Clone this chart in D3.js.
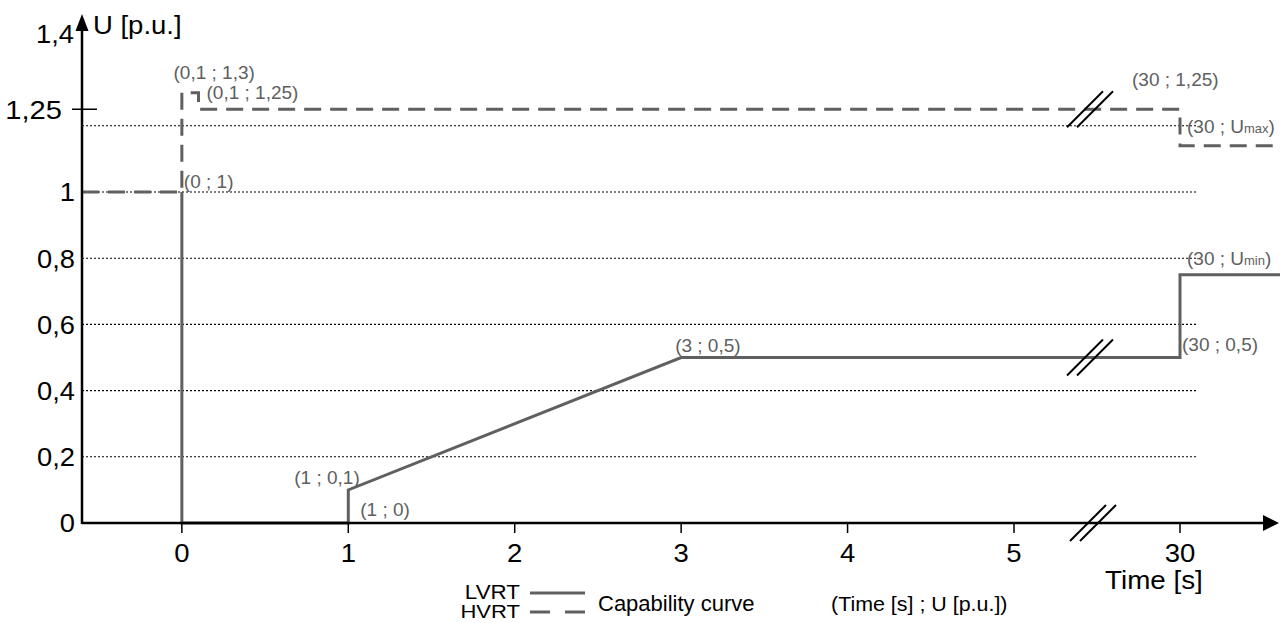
<!DOCTYPE html>
<html>
<head>
<meta charset="utf-8">
<script src="https://cdn.jsdelivr.net/npm/d3@7"></script>
<style>
  html, body { margin: 0; padding: 0; background: #fff; }
  svg { display: block; font-family: "Liberation Sans", Arial, sans-serif; }
</style>
</head>
<body>
<svg id="chart" width="1280" height="623"></svg>
<script>
// ---- data ----
const xTickValues = [0, 1, 2, 3, 4, 5, 30];
const xTickLabels = ["0", "1", "2", "3", "4", "5", "30"];
const yTickValues = [0, 0.2, 0.4, 0.6, 0.8, 1, 1.25];
const yTickLabels = ["0", "0,2", "0,4", "0,6", "0,8", "1", "1,25"];
const gridValues = [0.2, 0.4, 0.6, 0.8, 1, 1.2];
const lvrtTime = [0, 0, 1, 1, 3, 30, 30, 30.6];
const lvrtU    = [1, 0, 0, 0.1, 0.5, 0.5, 0.75, 0.75];
const hvrtTime = [-0.6, 0, 0, 0.1, 0.1, 30, 30, 30.56];
const hvrtU    = [1, 1, 1.3, 1.3, 1.25, 1.25, 1.14, 1.14];
const annoTime = [0.1, 0.1, 0, 30, 30, 30, 30, 3, 1, 1];
const annoU    = [1.3, 1.25, 1, 1.25, 1.2, 0.8, 0.5, 0.5, 0.1, 0];
const annoText = ["(0,1 ; 1,3)", "(0,1 ; 1,25)", "(0 ; 1)", "(30 ; 1,25)", "(30 ; U|max)", "(30 ; U|min)", "(30 ; 0,5)", "(3 ; 0,5)", "(1 ; 0,1)", "(1 ; 0)"];

// ---- layout ----
const svg = d3.select("#chart");
const x = d3.scaleLinear().domain([-0.6, 5, 30, 30.6]).range([82, 1014, 1180, 1280]);
const y = d3.scaleLinear().domain([0, 1]).range([523, 192]);
const lineColor = "#606060";
const axisX0 = x(-0.6), axisY0 = y(0);

// text helper with horizontal stretch
function label(g, px, py, txt, size, sx, anchor, dy) {
  return g.append("text")
    .attr("transform", `translate(${px},${py}) scale(${sx},1)`)
    .attr("dy", dy || null)
    .attr("text-anchor", anchor || "start")
    .attr("font-size", size)
    .text(txt);
}

// gridlines
svg.append("g").selectAll("line").data(gridValues).join("line")
  .attr("x1", axisX0).attr("x2", 1197)
  .attr("y1", d => y(d)).attr("y2", d => y(d))
  .attr("stroke", "#000").attr("stroke-width", 1.1).attr("stroke-dasharray", "2,2");

const line = d3.line().x(d => x(d[0])).y(d => y(d[1]));

// LVRT
svg.append("path").datum(lvrtTime.map((t, i) => [t, lvrtU[i]]))
  .attr("d", line).attr("fill", "none").attr("stroke", lineColor).attr("stroke-width", 3);
// HVRT
svg.append("path").datum(hvrtTime.map((t, i) => [t, hvrtU[i]]))
  .attr("d", line).attr("fill", "none").attr("stroke", lineColor).attr("stroke-width", 3)
  .attr("stroke-dasharray", "17,9");

// axes (custom with arrows)
const ax = svg.append("g");
ax.append("line").attr("x1", axisX0).attr("x2", 1263).attr("y1", axisY0).attr("y2", axisY0)
  .attr("stroke", "#000").attr("stroke-width", 2.5);
ax.append("path").attr("d", `M1263,${axisY0 - 8}L1279,${axisY0}L1263,${axisY0 + 8}Z`).attr("fill", "#000");
ax.append("line").attr("x1", axisX0).attr("x2", axisX0).attr("y1", axisY0 + 1).attr("y2", 31)
  .attr("stroke", "#000").attr("stroke-width", 2.5);
ax.append("path").attr("d", `M${axisX0 - 6.5},31L${axisX0},14L${axisX0 + 6.5},31Z`).attr("fill", "#000");

// x ticks
const xg = svg.append("g");
xTickValues.forEach((d, i) => {
  xg.append("line").attr("x1", x(d)).attr("x2", x(d)).attr("y1", axisY0).attr("y2", axisY0 + 10)
    .attr("stroke", "#000").attr("stroke-width", 1.5);
  label(xg, x(d), 562, xTickLabels[i], 25, 1.1, "middle");
});

// y labels
const yg = svg.append("g");
yTickValues.forEach((d, i) => {
  const is125 = d === 1.25;
  label(yg, is125 ? 62 : 75, y(d), yTickLabels[i], 26, is125 ? 1.12 : 1.05, "end", "0.36em");
});
// tick for 1.25
svg.append("line").attr("x1", 72).attr("x2", 97).attr("y1", y(1.25)).attr("y2", y(1.25))
  .attr("stroke", "#000").attr("stroke-width", 1.5);
// axis end label and titles
label(svg, 74, 43, "1,4", 26, 1.05, "end");
label(svg, 93, 34, "U [p.u.]", 25, 1.1, "start");
label(svg, 1105, 589, "Time [s]", 26, 1.07, "start");

// break marks
const brk = (cx, cy) => {
  [-5, 5].forEach(o => {
    svg.append("line").attr("x1", cx + o - 18).attr("y1", cy + 18)
      .attr("x2", cx + o + 18).attr("y2", cy - 18)
      .attr("stroke", "#000").attr("stroke-width", 2);
  });
};
const breakX = (x(5) + x(30)) / 2 - 7;
brk(breakX, y(1.25));
brk(breakX, y(0.5));
brk(breakX + 3, axisY0);

// annotations
const offs = [[-25, -14], [8, -10], [2, -4], [-48, -23], [7, 7], [7, 7], [2, -7], [-6, -6], [-54, -6], [12, -7]];
annoText.forEach((t, i) => {
  const parts = t.split("|");
  const tx = svg.append("text")
    .attr("x", x(annoTime[i]) + offs[i][0]).attr("y", y(annoU[i]) + offs[i][1])
    .attr("font-size", 19).attr("fill", lineColor);
  if (parts.length === 1) {
    tx.text(t);
  } else {
    tx.append("tspan").text(parts[0]);
    tx.append("tspan").attr("font-size", 13).text(parts[1].replace(")", ""));
    tx.append("tspan").text(")");
  }
});

// legend
const lg = svg.append("g");
label(lg, 520, 599, "LVRT", 20, 1.12, "end");
label(lg, 520, 618, "HVRT", 19, 1.16, "end");
lg.append("line").attr("x1", 530).attr("x2", 585).attr("y1", 593).attr("y2", 593)
  .attr("stroke", lineColor).attr("stroke-width", 3);
lg.append("line").attr("x1", 530).attr("x2", 585).attr("y1", 612).attr("y2", 612)
  .attr("stroke", lineColor).attr("stroke-width", 3).attr("stroke-dasharray", "20,15");
label(lg, 598, 611, "Capability curve", 22, 1, "start");
label(lg, 831, 611, "(Time [s] ; U [p.u.])", 21, 1.02, "start");
</script>
</body>
</html>
